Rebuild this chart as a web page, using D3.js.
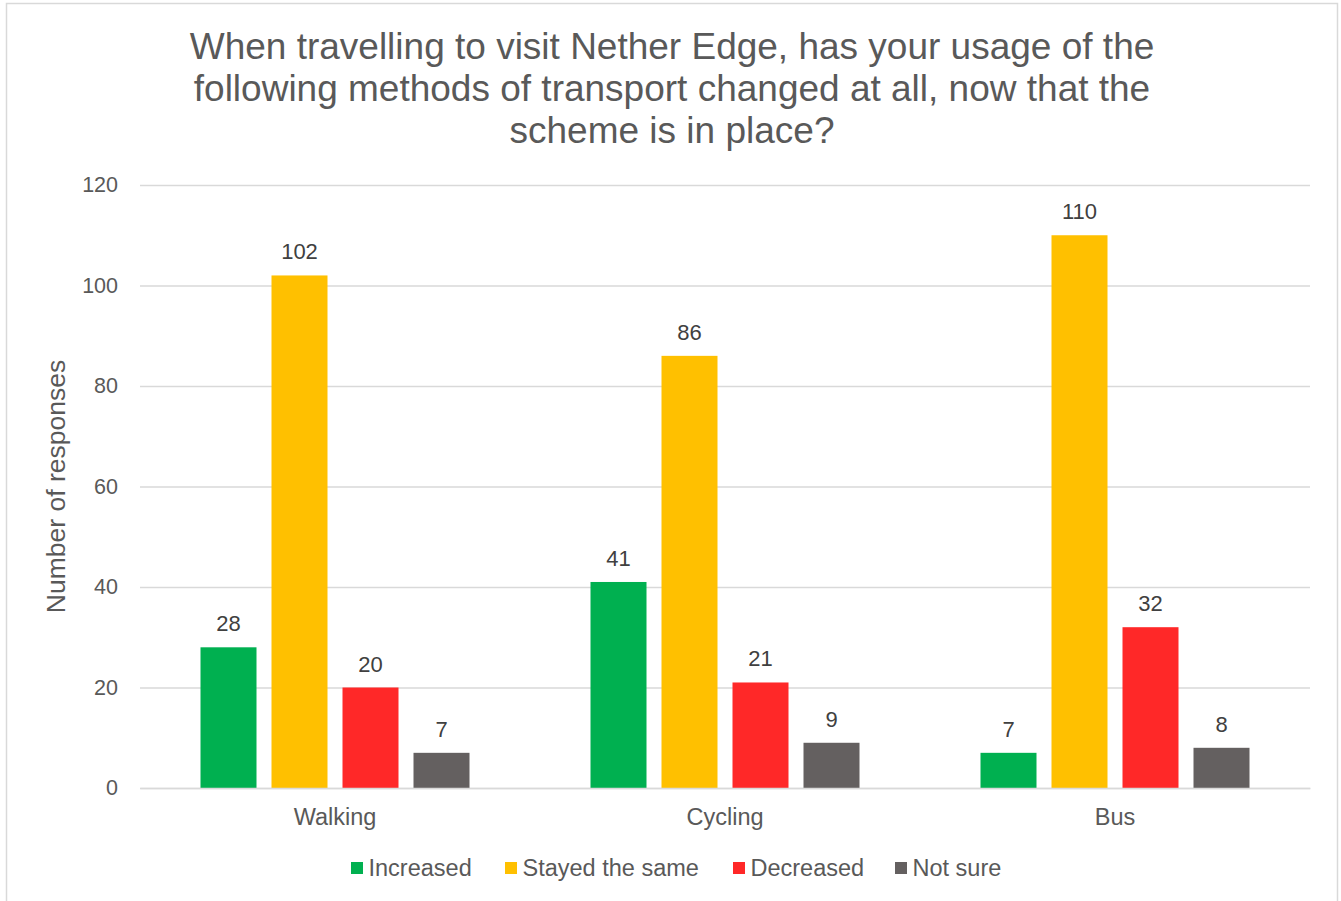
<!DOCTYPE html>
<html>
<head>
<meta charset="utf-8">
<script src="https://cdn.jsdelivr.net/npm/d3@7"></script>
<style>
  html, body { margin: 0; padding: 0; background: #ffffff; }
  svg { display: block; font-family: "Liberation Sans", Arial, sans-serif; }
</style>
</head>
<body>
<svg id="chart" width="1341" height="901"></svg>
<script>
// Survey responses: change in transport usage when travelling to Nether Edge
const categories = ["Walking", "Cycling", "Bus"];
const seriesNames = ["Increased", "Stayed the same", "Decreased", "Not sure"];
const seriesColors = ["#00B050", "#FFC000", "#FF2828", "#646060"];
const increased = [28, 41, 7];
const stayedSame = [102, 86, 110];
const decreased = [20, 21, 32];
const notSure = [7, 9, 8];
const yTicks = [0, 20, 40, 60, 80, 100, 120];
const titleLines = [
  "When travelling to visit Nether Edge, has your usage of the",
  "following methods of transport changed at all, now that the",
  "scheme is in place?"
];
const yAxisTitle = "Number of responses";

const seriesValues = [increased, stayedSame, decreased, notSure];

const svg = d3.select("#chart");
const margin = { left: 140, right: 1310, top: 185, bottom: 788 };

// chart frame
svg.append("rect")
  .attr("x", 6.5).attr("y", 3.5)
  .attr("width", 1331).attr("height", 910)
  .attr("fill", "#fff").attr("stroke", "#d9d9d9").attr("stroke-width", 1.5);

const x0 = d3.scaleBand().domain(categories).range([margin.left, margin.right]).paddingInner(0).paddingOuter(0);
const bandInnerPad = 60.5;
const x1 = d3.scaleBand().domain(seriesNames)
  .range([bandInnerPad, x0.bandwidth() - bandInnerPad])
  .paddingInner(15 / 71).paddingOuter(0);
const y = d3.scaleLinear().domain([0, 120]).range([margin.bottom, margin.top]);

// title
svg.append("text")
  .attr("text-anchor", "middle")
  .attr("fill", "#595959")
  .style("font-size", "37px")
  .selectAll("tspan").data(titleLines).join("tspan")
  .attr("x", 672)
  .attr("y", (d, i) => 59 + i * 42)
  .text(d => d);

// gridlines + y tick labels
const yAxis = d3.axisLeft(y).tickValues(yTicks).tickSize(-(margin.right - margin.left)).tickPadding(22);
const gy = svg.append("g").attr("transform", `translate(${margin.left},0)`).call(yAxis);
gy.select(".domain").remove();
gy.selectAll(".tick line").attr("stroke", "#d9d9d9").attr("stroke-width", 1.5);
gy.selectAll(".tick text")
  .attr("fill", "#595959")
  .style("font-size", "21.5px")
  .style("font-family", "'Liberation Sans', Arial, sans-serif");

// y axis title
svg.append("text")
  .attr("transform", `translate(65,${(margin.top + margin.bottom) / 2}) rotate(-90)`)
  .attr("text-anchor", "middle")
  .attr("fill", "#595959")
  .style("font-size", "26.5px")
  .text(yAxisTitle);

// bars
const groups = svg.append("g").selectAll("g").data(categories).join("g")
  .attr("transform", d => `translate(${x0(d)},0)`);

groups.selectAll("rect")
  .data((c, ci) => seriesNames.map((s, si) => ({ s, si, v: seriesValues[si][ci] })))
  .join("rect")
  .attr("x", d => x1(d.s))
  .attr("width", x1.bandwidth())
  .attr("y", d => y(d.v))
  .attr("height", d => y(0) - y(d.v))
  .attr("fill", d => seriesColors[d.si]);

// data labels
groups.selectAll("text.val")
  .data((c, ci) => seriesNames.map((s, si) => ({ s, si, v: seriesValues[si][ci] })))
  .join("text")
  .attr("class", "val")
  .attr("x", d => x1(d.s) + x1.bandwidth() / 2)
  .attr("y", d => y(d.v) - 16)
  .attr("text-anchor", "middle")
  .attr("fill", "#404040")
  .style("font-size", "22px")
  .text(d => d.v);

// x axis
const xAxis = d3.axisBottom(x0).tickSize(0).tickPadding(20);
const gx = svg.append("g").attr("transform", `translate(0,${margin.bottom})`).call(xAxis);
gx.select(".domain").attr("stroke", "#d9d9d9").attr("stroke-width", 1.5);
gx.selectAll(".tick text")
  .attr("fill", "#595959")
  .style("font-size", "23.5px")
  .style("font-family", "'Liberation Sans', Arial, sans-serif");

// legend
const legendX = [351, 505, 733, 895];
const legend = svg.append("g").selectAll("g").data(seriesNames).join("g")
  .attr("transform", (d, i) => `translate(${legendX[i]},862)`);
legend.append("rect").attr("width", 12).attr("height", 12).attr("fill", (d, i) => seriesColors[i]);
legend.append("text")
  .attr("x", 17.5).attr("y", 14)
  .attr("fill", "#595959")
  .style("font-size", "23.5px")
  .text(d => d);
</script>
</body>
</html>
